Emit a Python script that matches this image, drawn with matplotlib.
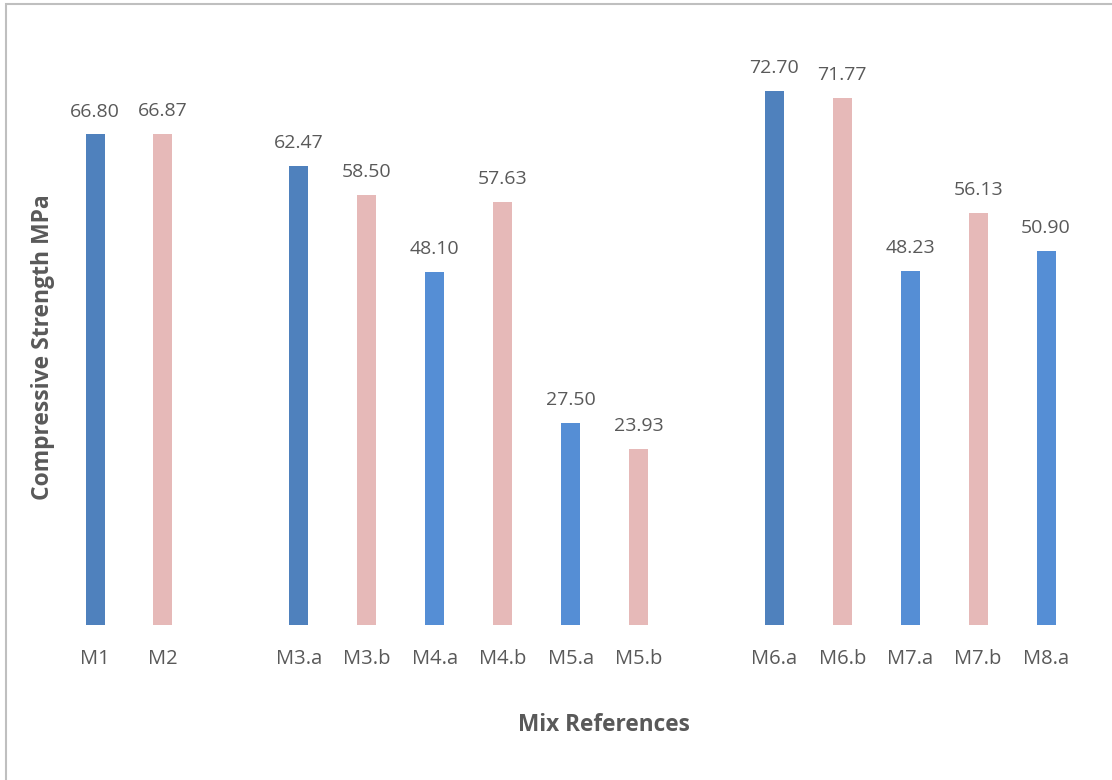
import numpy as np
import matplotlib.pyplot as plt
from matplotlib.patches import Rectangle

# mix references, empty strings are spacer slots between groups
mixes = ["M1", "M2", "", "M3.a", "M3.b", "M4.a", "M4.b", "M5.a", "M5.b", "",
         "M6.a", "M6.b", "M7.a", "M7.b", "M8.a"]
strength = [66.80, 66.87, np.nan, 62.47, 58.50, 48.10, 57.63, 27.50, 23.93, np.nan,
            72.70, 71.77, 48.23, 56.13, 50.90]
shade = ["dark", "pink", "", "dark", "pink", "light", "pink", "light", "pink", "",
         "dark", "pink", "light", "pink", "light"]

palette = {"dark": "#4F81BD", "light": "#558ED5", "pink": "#E6B9B8"}
txt = "#595959"
font = ["Open Sans", "DejaVu Sans"]

fig = plt.figure(figsize=(11.12, 7.80), dpi=100)
fig.patches.append(Rectangle((6 / 1112, -0.1), 1.2, 1.1 - 4 / 780,
                             transform=fig.transFigure, fill=False,
                             edgecolor="#BFBFBF", linewidth=1.5))
ax = fig.add_axes([0.0549, 0.1987, 0.9164, 0.7533])

for i, (m, v, s) in enumerate(zip(mixes, strength, shade)):
    if not m:
        continue
    ax.bar(i, v, width=0.28, color=palette[s])
    ax.annotate(f"{v:.2f}", (i, v), xytext=(0, 10), textcoords="offset points",
                ha="center", va="bottom", fontsize=14, color=txt, family=font)

ax.set_xlim(-0.5, len(mixes) - 0.5)
ax.set_ylim(0, 80)
ax.set_xticks([i for i, m in enumerate(mixes) if m])
ax.set_xticklabels([m for m in mixes if m], fontsize=14.5, color=txt, family=font)
ax.tick_params(axis="x", length=0, pad=17)
ax.set_yticks([])
for sp in ax.spines.values():
    sp.set_visible(False)

fig.text(0.039, 0.555, "Compressive Strength MPa", rotation=90, ha="center",
         va="center", fontsize=16.5, fontweight="bold", color=txt, family=font)
fig.text(0.543, 0.07, "Mix References", ha="center", va="center",
         fontsize=16.3, fontweight="bold", color=txt, family=font)

fig.savefig("out.png", dpi=100)
